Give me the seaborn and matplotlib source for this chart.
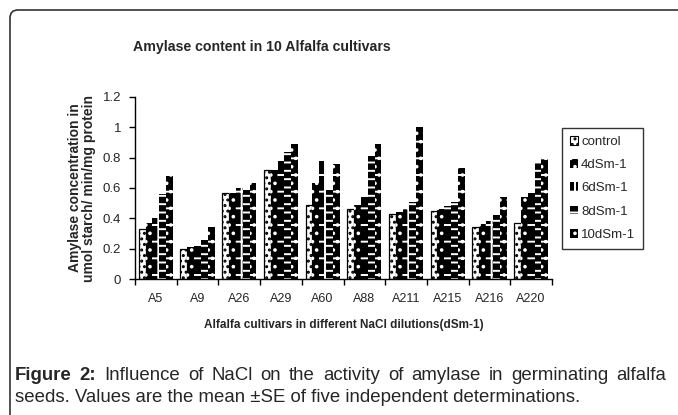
import matplotlib
matplotlib.use("Agg")
import matplotlib.pyplot as plt
from matplotlib.patches import FancyBboxPatch, Patch
from matplotlib.transforms import IdentityTransform
import seaborn as sns
import pandas as pd
import numpy as np

cultivars = ["A5", "A9", "A26", "A29", "A60", "A88", "A211", "A215", "A216", "A220"]
series = ["control", "4dSm-1", "6dSm-1", "8dSm-1", "10dSm-1"]
control = [0.33, 0.20, 0.57, 0.72, 0.49, 0.46, 0.43, 0.45, 0.34, 0.37]
d4 = [0.37, 0.21, 0.57, 0.72, 0.63, 0.49, 0.445, 0.46, 0.36, 0.54]
d6 = [0.40, 0.22, 0.60, 0.78, 0.78, 0.54, 0.47, 0.48, 0.38, 0.57]
d8 = [0.56, 0.26, 0.59, 0.84, 0.59, 0.81, 0.51, 0.51, 0.42, 0.77]
d10 = [0.68, 0.34, 0.63, 0.89, 0.76, 0.89, 1.00, 0.73, 0.54, 0.79]

rows = []
for s, vals in zip(series, [control, d4, d6, d8, d10]):
    for c, v in zip(cultivars, vals):
        rows.append({"cultivar": c, "level": s, "value": v})
df = pd.DataFrame(rows)

sns.set_style("white")
plt.rcParams["font.family"] = ["Liberation Sans", "DejaVu Sans"]
plt.rcParams["hatch.linewidth"] = 1.4

fig = plt.figure(figsize=(6.78, 4.15), dpi=100)
ax = fig.add_axes([135/678, 1-279/415, (552-135)/678, (279-97)/415])

sns.barplot(data=df, x="cultivar", y="value", hue="level", order=cultivars,
            hue_order=series, ax=ax, width=0.82, gap=0, legend=False)

styles = {
    "control": dict(fc="white", ec="black", hatch="..."),
    "4dSm-1": dict(fc="black", ec="white", hatch=".."),
    "6dSm-1": dict(fc="black", ec="white", hatch="+"),
    "8dSm-1": dict(fc="black", ec="white", hatch="--"),
    "10dSm-1": dict(fc="black", ec="white", hatch="-.."),
}
n = len(cultivars)
bars = list(ax.patches)
for i, s in enumerate(series):
    st = styles[s]
    for p in bars[i*n:(i+1)*n]:
        p.set_facecolor(st["fc"])
        p.set_hatch(st["hatch"])
        if st["fc"] == "white":
            p.set_edgecolor("black")
            p.set_linewidth(0.9)
        else:
            p.set_edgecolor("white")
            p.set_linewidth(0.0)

ax.set_ylim(0, 1.2)
ax.set_xlim(-0.5, n - 0.5)
ax.set_yticks(np.arange(0, 1.21, 0.2))
ax.set_yticklabels(["0", "0.2", "0.4", "0.6", "0.8", "1", "1.2"], fontsize=9.5)
ax.set_xticks(range(n))
ax.set_xticklabels(cultivars, fontsize=9)
ax.set_xticks(np.arange(-0.5, n, 1.0), minor=True)
ax.tick_params(axis="x", which="major", length=0, pad=10)
ax.tick_params(axis="x", which="minor", length=4, width=1, direction="out", color="black", bottom=True)
ax.tick_params(axis="y", length=4, width=1, direction="out", color="black", left=True, pad=6)
for sp in ["top", "right"]:
    ax.spines[sp].set_visible(False)
for sp in ["left", "bottom"]:
    ax.spines[sp].set_color("black")
    ax.spines[sp].set_linewidth(1)

ax.set_xlabel("Alfalfa cultivars in different NaCl dilutions(dSm-1)", fontsize=8.5,
              fontweight="bold", labelpad=10)
ax.set_ylabel("Amylase concentration in\numol starch/ min/mg protein", fontsize=10,
              fontweight="bold", labelpad=5, linespacing=1.0)

fig.text(262/678, 1-47/415, "Amylase content in 10 Alfalfa cultivars", ha="center",
         va="center", fontsize=10.2, fontweight="bold")

handles = [Patch(facecolor=styles[s]["fc"],
                 edgecolor="black" if styles[s]["fc"] == "white" else "white",
                 hatch=styles[s]["hatch"], linewidth=0.8 if styles[s]["fc"] == "white" else 0)
           for s in series]
leg = fig.legend(handles, series, loc="upper left", bbox_to_anchor=(562/678, 1-128/415),
                 frameon=True, fontsize=9.5, handlelength=0.65, handleheight=0.65,
                 handletextpad=0.2, labelspacing=0.85, borderpad=0.6, borderaxespad=0,
                 fancybox=False)
leg.get_frame().set_edgecolor("black")
leg.get_frame().set_linewidth(1)

border = FancyBboxPatch((10, -30), 720, 415 - 10 + 30,
                        boxstyle="round,pad=0,rounding_size=8",
                        transform=IdentityTransform(), fill=False, ec="#333333", lw=1.2,
                        clip_on=False)
fig.patches.append(border)

# caption: first line justified between x=15 and x=666
cap_fs = 13.4
renderer = fig.canvas.get_renderer()
words = [("Figure", "bold"), ("2:", "bold"), ("Influence", "normal"), ("of", "normal"),
         ("NaCl", "normal"), ("on", "normal"), ("the", "normal"), ("activity", "normal"),
         ("of", "normal"), ("amylase", "normal"), ("in", "normal"), ("germinating", "normal"),
         ("alfalfa", "normal")]
y1 = 1 - 375/415
objs = []
widths = []
for w, fw in words:
    t = fig.text(0, y1, w, ha="left", va="center", fontsize=cap_fs, fontweight=fw)
    bb = t.get_window_extent(renderer=renderer)
    objs.append(t)
    widths.append(bb.width)
x0, x1 = 15, 666
gap = (x1 - x0 - sum(widths)) / (len(words) - 1)
x = x0
for t, wd in zip(objs, widths):
    t.set_x(x / 678)
    x += wd + gap
fig.text(15/678, 1-397/415,
         "seeds. Values are the mean \u00b1SE of five independent determinations.",
         ha="left", va="center", fontsize=cap_fs)

fig.savefig("out.png", dpi=100)
